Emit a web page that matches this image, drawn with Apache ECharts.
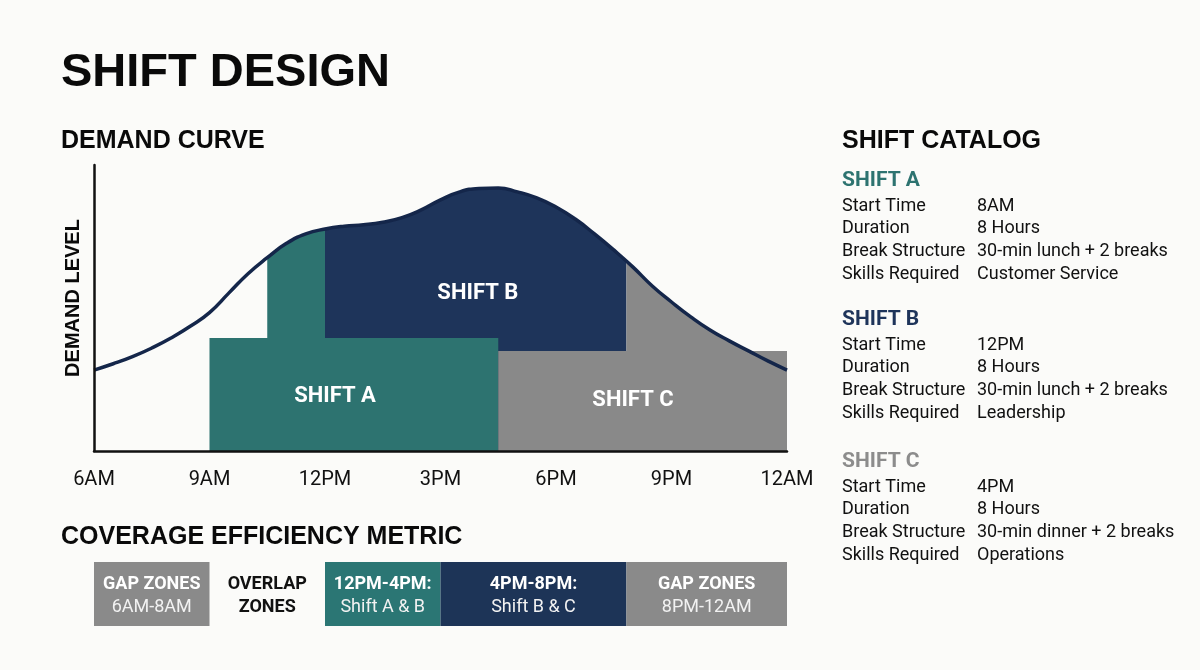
<!DOCTYPE html>
<html><head><meta charset="utf-8">
<script src="https://cdn.jsdelivr.net/npm/echarts@6/dist/echarts.min.js"></script>
<style>html,body{margin:0;padding:0;background:#fbfbf9;}#main{width:1200px;height:670px;}</style>
</head><body><div id="main"></div>
<script>
// ---- data ----
const hours = [6,6.5,7,7.5,8,8.5,9,9.5,10,10.5,11,11.5,12,12.5,13,13.5,14,14.5,15,15.5,16,16.5,17,17.5,18,18.5,19,19.5,20,20.5,21,21.5,22,22.5,23,23.5,24];
const demand = [28.3,30.5,33.0,36.0,39.5,43.6,48.4,55.2,62.0,67.6,72.6,75.9,77.6,78.6,79.1,80.0,81.6,84.3,87.8,90.6,91.8,92.0,90.6,88.5,85.3,81.1,75.9,70.3,64.3,57.7,52.1,46.9,42.3,38.5,35.0,31.5,28.3];
const tickHours = [6,9,12,15,18,21,24];
const tickLabels = ['6AM','9AM','12PM','3PM','6PM','9PM','12AM'];

// coverage fills under the demand curve
const fillStart = [10.5, 12, 19.83];
const fillEnd = [12, 19.83, 24];
const fillShift = [0, 1, 2];
// base blocks of shift A and C
const blockStart = [9, 16.5];
const blockEnd = [16.5, 24];
const blockTop = [39.5, 35.0];
const blockShift = [0, 2];
// shift labels
const shiftNames = ['SHIFT A','SHIFT B','SHIFT C'];
const labelX = [12.26, 15.97, 20.0];
const labelY = [18.9, 55.2, 17.5];

// coverage efficiency metric
const zoneStart = [6, 9, 12, 15, 19.83];
const zoneEnd = [9, 12, 15, 19.83, 24];
const zoneTitle = ['GAP ZONES','OVERLAP','12PM-4PM:','4PM-8PM:','GAP ZONES'];
const zoneSub = ['6AM-8AM','ZONES','Shift A & B','Shift B & C','8PM-12AM'];
const zoneKind = [2, -1, 0, 1, 2];

// shift catalog
const catalogFields = ['Start Time','Duration','Break Structure','Skills Required'];
const catalogA = ['8AM','8 Hours','30-min lunch + 2 breaks','Customer Service'];
const catalogB = ['12PM','8 Hours','30-min lunch + 2 breaks','Leadership'];
const catalogC = ['4PM','8 Hours','30-min dinner + 2 breaks','Operations'];

// ---- styles ----
const shiftColors = ['#2d7370','#1e345a','#898989'];
const zoneColors = ['#2b7674','#1d3457','#8a8a8a'];
const headColors = ['#2d7370','#1e345a','#8c8c8c'];
const lineColor = '#14264a';

function curveAt(h){
  for (let i = 0; i < hours.length - 1; i++) {
    if (h >= hours[i] && h <= hours[i+1]) {
      const t = (h - hours[i]) / (hours[i+1] - hours[i]);
      return demand[i] + t * (demand[i+1] - demand[i]);
    }
  }
  return demand[demand.length-1];
}

const graphics = [];
function txt(x, y, text, font, fill, align){
  graphics.push({type:'text', x:x, y:y, style:{text:text, font:font, fill:fill, align:align||'left', verticalAlign:'middle'}});
}
txt(61, 73, 'SHIFT DESIGN', 'bold 47px "Liberation Sans", Arial, sans-serif', '#0a0a0a');
txt(61, 141, 'DEMAND CURVE', 'bold 25px "Liberation Sans", Arial, sans-serif', '#0a0a0a');
txt(61, 537, 'COVERAGE EFFICIENCY METRIC', 'bold 25px "Liberation Sans", Arial, sans-serif', '#0a0a0a');
txt(842, 141, 'SHIFT CATALOG', 'bold 25px "Liberation Sans", Arial, sans-serif', '#0a0a0a');
graphics.push({type:'text', x:73, y:298, rotation:Math.PI/2,
  style:{text:'DEMAND LEVEL', font:'bold 20px "Liberation Sans", Arial, sans-serif', fill:'#0a0a0a', align:'center', verticalAlign:'middle'}});

const catalogs = [catalogA, catalogB, catalogC];
const catalogHeadY = [181, 320, 462];
catalogs.forEach((vals, s) => {
  txt(842, catalogHeadY[s], shiftNames[s], 'bold 21px Roboto, sans-serif', headColors[s]);
  catalogFields.forEach((f, r) => {
    const y = catalogHeadY[s] + 25 + r * 22.7;
    txt(842, y, f, '18px Roboto, sans-serif', '#111');
    txt(977, y, vals[r], '18px Roboto, sans-serif', '#111');
  });
});

const chart = echarts.init(document.getElementById('main'), null, {renderer:'canvas'});
chart.setOption({
  backgroundColor: '#fbfbf9',
  animation: false,
  graphic: graphics,
  grid: [
    {left:94, right:413, top:165, bottom:219},
    {left:94, right:413, top:562, height:64}
  ],
  xAxis: [
    {type:'value', gridIndex:0, min:6, max:24, interval:3, z:10,
     axisLine:{show:true, lineStyle:{color:'#111', width:2.5}},
     axisTick:{show:false}, splitLine:{show:false},
     axisLabel:{margin:19, fontSize:20, fontFamily:'Roboto, sans-serif', color:'#111',
       formatter: v => { const i = tickHours.indexOf(v); return i >= 0 ? tickLabels[i] : ''; }}},
    {type:'value', gridIndex:1, min:6, max:24, show:false}
  ],
  yAxis: [
    {type:'value', gridIndex:0, min:0, max:100, z:10,
     axisLine:{show:true, lineStyle:{color:'#111', width:2.5}},
     axisTick:{show:false}, axisLabel:{show:false}, splitLine:{show:false}},
    {type:'value', gridIndex:1, min:0, max:1, show:false}
  ],
  series: [
    {
      type:'custom', xAxisIndex:0, yAxisIndex:0, z:1, silent:true,
      data: fillStart.map((s,i) => [s, fillEnd[i], fillShift[i]]),
      renderItem: (params, api) => {
        const x0 = api.value(0), x1 = api.value(1), c = api.value(2);
        const pts = [api.coord([x0,0]), api.coord([x0, curveAt(x0)])];
        hours.forEach((h,i) => { if (h > x0 && h < x1) pts.push(api.coord([h, demand[i]])); });
        pts.push(api.coord([x1, curveAt(x1)]), api.coord([x1, 0]));
        return {type:'polygon', shape:{points:pts}, style:{fill:shiftColors[c]}};
      }
    },
    {
      type:'custom', xAxisIndex:0, yAxisIndex:0, z:2, silent:true,
      data: blockStart.map((s,i) => [s, blockEnd[i], blockTop[i], blockShift[i]]),
      renderItem: (params, api) => {
        const p0 = api.coord([api.value(0), api.value(2)]);
        const p1 = api.coord([api.value(1), 0]);
        return {type:'rect', shape:{x:p0[0], y:p0[1], width:p1[0]-p0[0], height:p1[1]-p0[1]},
          style:{fill:shiftColors[api.value(3)]}};
      }
    },
    {
      type:'line', xAxisIndex:0, yAxisIndex:0, z:5, silent:true,
      data: hours.map((h,i) => [h, demand[i]]),
      symbol:'none', smooth:0.5,
      lineStyle:{color:lineColor, width:3.5}
    },
    {
      type:'custom', xAxisIndex:0, yAxisIndex:0, z:6, silent:true,
      data: labelX.map((x,i) => [x, labelY[i], i]),
      renderItem: (params, api) => {
        const p = api.coord([api.value(0), api.value(1)]);
        return {type:'text', x:p[0], y:p[1],
          style:{text:shiftNames[api.value(2)], font:'bold 22px Roboto, sans-serif', fill:'#ffffff', align:'center', verticalAlign:'middle'}};
      }
    },
    {
      type:'custom', xAxisIndex:1, yAxisIndex:1, z:2, silent:true,
      data: zoneStart.map((s,i) => [s, zoneEnd[i], zoneKind[i], i]),
      renderItem: (params, api) => {
        const p0 = api.coord([api.value(0), 1]);
        const p1 = api.coord([api.value(1), 0]);
        const k = api.value(2), i = api.value(3);
        const cx = (p0[0]+p1[0])/2, cy = (p0[1]+p1[1])/2;
        const tc = k < 0 ? '#111' : '#ffffff';
        const children = [];
        if (k >= 0) children.push({type:'rect', shape:{x:p0[0], y:p0[1], width:p1[0]-p0[0], height:p1[1]-p0[1]}, style:{fill:zoneColors[k]}});
        children.push({type:'text', x:cx, y:cy-10, style:{text:zoneTitle[i], font:'bold 18px Roboto, sans-serif', fill:tc, align:'center', verticalAlign:'middle'}});
        children.push({type:'text', x:cx, y:cy+13, style:{text:zoneSub[i], font:(k<0?'bold ':'')+'18px Roboto, sans-serif', fill:k<0?'#111':'#f2f2f2', align:'center', verticalAlign:'middle'}});
        return {type:'group', children:children};
      }
    }
  ]
});
</script>
</body></html>
